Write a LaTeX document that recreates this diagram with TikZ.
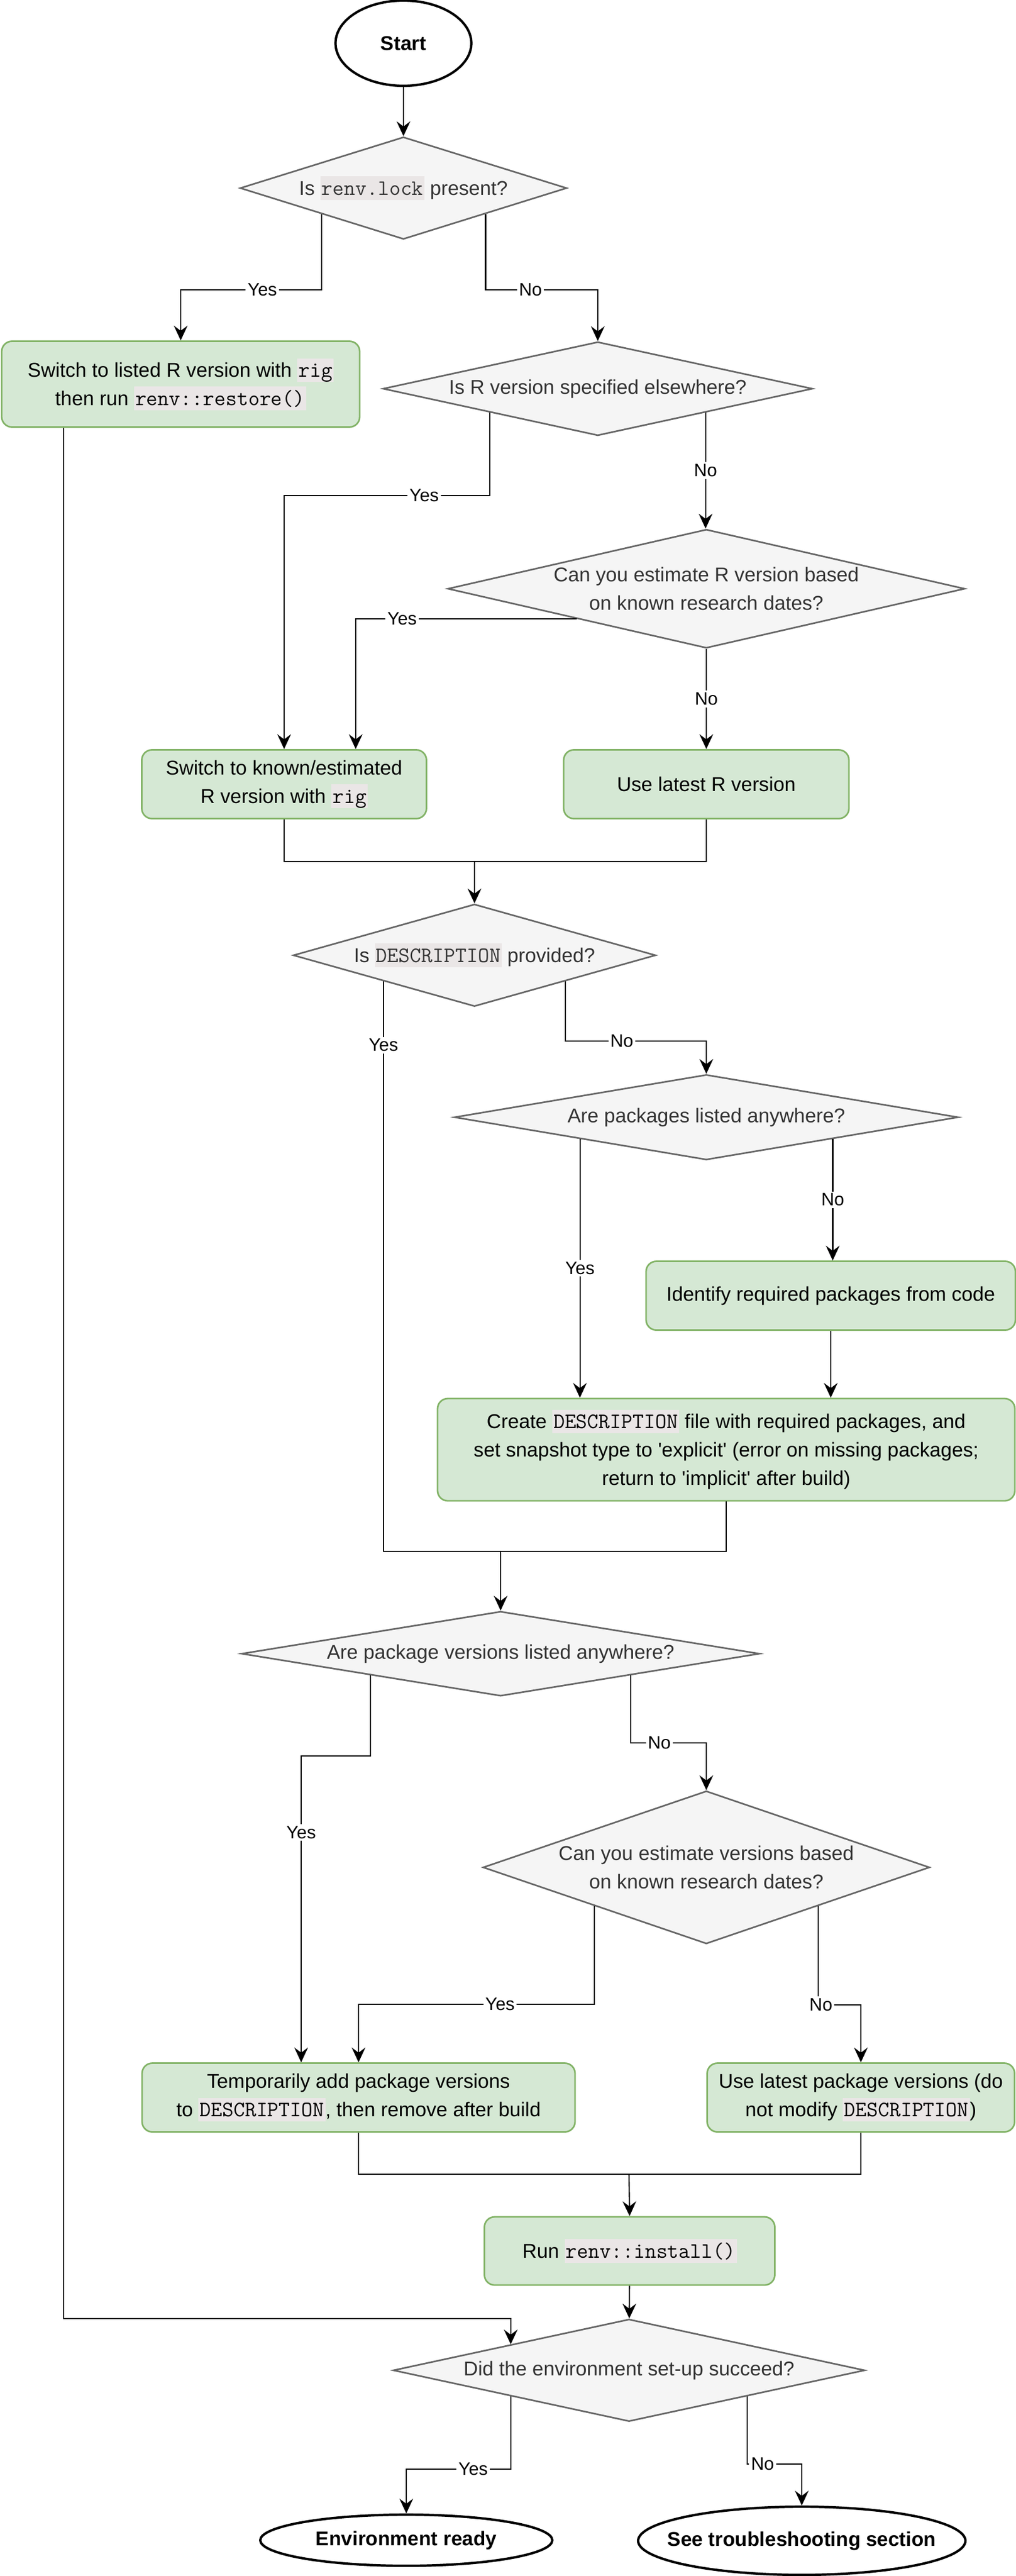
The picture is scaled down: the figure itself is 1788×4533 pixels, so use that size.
\documentclass[tikz,border=0pt]{standalone}
\usepackage{fontspec}
\setmainfont{Liberation Sans}
\usetikzlibrary{positioning,calc,shapes.geometric,arrows.meta}
\definecolor{codegray}{HTML}{EAE6E6}
\definecolor{greenfill}{HTML}{D5E8D4}
\definecolor{greenline}{HTML}{82B366}
\definecolor{decfill}{HTML}{F5F5F5}
\definecolor{decline}{HTML}{666666}
\definecolor{dectext}{HTML}{333333}
\newcommand{\code}[1]{{\setlength{\fboxsep}{0pt}\colorbox{codegray}{\hspace{0.6pt}\rule[-2.3pt]{0pt}{11.7pt}{\fontsize{11}{14}\ttfamily #1}\hspace{0.6pt}}}}
\tikzset{>={Stealth[length=2.6mm,width=2.4mm,inset=0.9mm]}}
\tikzset{
  process/.style={draw=greenline, fill=greenfill, line width=0.8pt,
    rounded corners=1.8mm, align=center, font=\fontsize{10}{14.2}\selectfont},
  decision/.style={diamond, draw=decline, fill=decfill, line width=0.8pt,
    inner sep=0pt, align=center, text=dectext, font=\fontsize{10}{14.2}\selectfont},
  terminal/.style={ellipse, draw, line width=1.2pt, fill=white, inner sep=0pt,
    label={[font=\bfseries\fontsize{10}{12}\selectfont]center:#1}},
  flow/.style={->, line width=0.6pt},
  link/.style={line width=0.6pt},
  yesno/.style={fill=white, inner sep=1pt, font=\fontsize{9}{11}\selectfont}
}

\begin{document}
\begin{tikzpicture}[x=0.1mm,y=-0.1mm]
\useasboundingbox (0,0) rectangle (1788,4533);

% R version
\node[terminal={Start}, minimum width=23.9mm, minimum height=15mm] (start) at (710,76) {};
\node[decision, minimum width=57.5mm, minimum height=18mm, aspect=3.2] (lock) at (710,331)
  {Is \code{renv.lock} present?};
\node[process, minimum width=63mm, minimum height=15.1mm] (restore) at (318,676)
  {Switch to listed R version with \code{rig}\\then run \code{renv::restore()}};
\node[decision, minimum width=75.6mm, minimum height=16.5mm, aspect=4.6] (rspec) at (1052,684)
  {Is R version specified elsewhere?};
\node[decision, minimum width=91mm, minimum height=20.9mm, aspect=4.35] (rest) at (1243,1036)
  {Can you estimate R version based\\on known research dates?};
\node[process, minimum width=50.1mm, minimum height=12.1mm] (rknown) at (500,1380)
  {Switch to known/estimated\\R version with \code{rig}};
\node[process, minimum width=50.2mm, minimum height=12.1mm] (rlatest) at (1243,1380)
  {Use latest R version};

% packages
\node[decision, minimum width=63.8mm, minimum height=18mm, aspect=3.5] (desc) at (835,1681)
  {Is \code{DESCRIPTION} provided?};
\node[decision, minimum width=88.7mm, minimum height=15mm, aspect=5.9] (pkgs) at (1243,1966)
  {Are packages listed anywhere?};
\node[process, minimum width=65mm, minimum height=12.1mm] (ident) at (1462,2280)
  {Identify required packages from code};
\node[process, minimum width=101.6mm, minimum height=18mm] (create) at (1278,2551)
  {Create \code{DESCRIPTION} file with required packages, and\\
   set snapshot type to \textquotesingle explicit\textquotesingle\ (error on missing packages;\\
   return to \textquotesingle implicit\textquotesingle\ after build)};

% package versions
\node[decision, minimum width=91.2mm, minimum height=14.9mm, aspect=6.1] (vers) at (881,2910)
  {Are package versions listed anywhere?};
\node[decision, minimum width=78.6mm, minimum height=26.9mm, aspect=2.9] (vest) at (1243,3286)
  {Can you estimate versions based\\on known research dates?};
\node[process, minimum width=76.2mm, minimum height=12.1mm] (vadd) at (631,3691)
  {Temporarily add package versions\\to \code{DESCRIPTION}, then remove after build};
\node[process, minimum width=54.1mm, minimum height=12.1mm] (vlatest) at (1515,3691)
  {Use latest package versions (do\\not modify \code{DESCRIPTION})};
\node[process, minimum width=51.1mm, minimum height=12mm] (install) at (1108,3961)
  {Run \code{renv::install()}};

% result
\node[decision, minimum width=83mm, minimum height=18mm, aspect=4.6] (ok) at (1107,4171)
  {Did the environment set-up succeed?};
\node[terminal={Environment ready}, minimum width=51.4mm, minimum height=9mm] (ready) at (715,4470) {};
\node[terminal={See troubleshooting section}, minimum width=57.6mm, minimum height=12mm] (trouble) at (1411,4471) {};

\coordinate (j1) at (835,1516);
\coordinate (j2) at (881,2730);
\coordinate (j3) at (1107,3826);

% connectors
\draw[flow] (start) -- (lock);
\draw[flow] (lock.south west) -- ++(0,133) -| node[yesno,pos=.21]{Yes} (restore.north);
\draw[flow] (lock.south east) -- ++(0,133) -| node[yesno,pos=.2]{No} (rspec.north);
\draw[flow] (rspec.south west) -- ++(0,146) -| node[yesno,pos=.16]{Yes} (rknown.north);
\draw[flow] (rspec.south east) -- node[yesno]{No} (rspec.south east |- rest.north);
\draw[flow] (rest.south west) -| node[yesno,pos=.395]{Yes} ($(rknown.north)!.5!(rknown.north east)$);
\draw[flow] (rest.south) -- node[yesno]{No} (rlatest.north);
\draw[link] (rknown.south) |- (j1);
\draw[link] (rlatest.south) |- (j1);
\draw[flow] (j1) -- (desc.north);

\draw[link] (desc.south west) |- node[yesno,pos=.056]{Yes} (j2);
\draw[flow] (desc.south east) -- ++(0,105) -| node[yesno,pos=.2]{No} (pkgs.north);
\draw[flow] (pkgs.south west) -- node[yesno]{Yes} (pkgs.south west |- create.north);
\draw[flow] (pkgs.south east) -- node[yesno]{No} (pkgs.south east |- ident.north);
\draw[flow] (ident.south) -- (ident.south |- create.north);
\draw[link] (create.south) |- (j2);
\draw[flow] (j2) -- (vers.north);

\draw[flow] (vers.south west) -- ++(0,142) -| node[yesno,pos=.625]{Yes} ($(vadd.north)+(-101,0)$);
\draw[flow] (vers.south east) -- ++(0,119) -| node[yesno,pos=.19]{No} (vest.north);
\draw[flow] (vest.south west) -- ++(0,173) -| node[yesno,pos=.2]{Yes} (vadd.north);
\draw[flow] (vest.south east) -- ++(0,174) -| node[yesno,pos=.03]{No} (vlatest.north);
\draw[link] (vadd.south) |- (j3);
\draw[link] (vlatest.south) |- (j3);
\draw[flow] (j3) -- (install.north);
\draw[flow] (install) -- (ok);

\draw[flow] ($(restore.south)+(-206,0)$) |- (ok.north west |- ok.north) -- (ok.north west);
\draw[flow] (ok.south west) -- ++(0,128) -| node[yesno,pos=.18]{Yes} (ready.north);
\draw[flow] (ok.south east) -- ++(0,119) -| node[yesno,pos=.14]{No} (trouble.north);
\end{tikzpicture}
\end{document}
